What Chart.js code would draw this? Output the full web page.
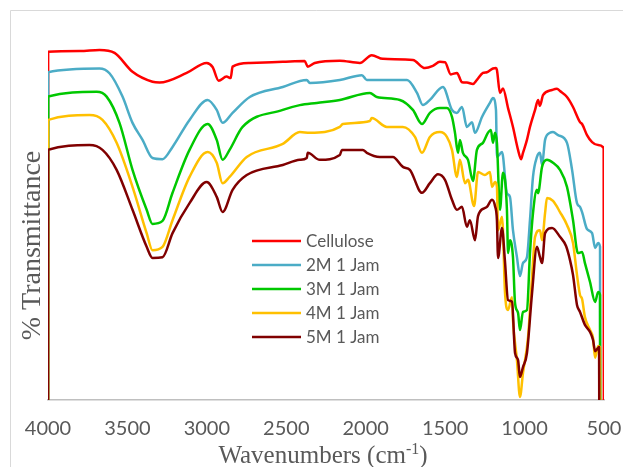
<!DOCTYPE html>
<html><head><meta charset="utf-8">
<script src="https://cdn.jsdelivr.net/npm/chart.js@4"></script>
<style>html,body{margin:0;padding:0;background:#fff}canvas{display:block}</style>
</head><body>
<canvas id="c" width="623" height="467"></canvas>
<script>
const seriesNames = ['Cellulose', '2M 1 Jam', '3M 1 Jam', '4M 1 Jam', '5M 1 Jam'];
const seriesColors = ['#ff0000', '#4bacc6', '#00c800', '#ffc000', '#800000'];
const xTicks = [500, 1000, 1500, 2000, 2500, 3000, 3500, 4000];

// [wavenumber (cm-1), transmittance (arbitrary, offset)]
const cellulose = [[4000,0],[3999,94.1],[3800,94.3],[3676,94.6],[3581,93.8],[3468,88.7],[3342,86.0],[3298,85.8],[3127,88.4],[3001,91.1],[2964,90.0],[2926,86.3],[2876,87.4],[2850,87.0],[2838,90.1],[2730,91.1],[2522,91.4],[2384,91.6],[2365,90.1],[2321,91.1],[2163,91.7],[2037,91.1],[1962,93.2],[1892,92.2],[1703,91.9],[1627,89.7],[1577,90.3],[1533,91.4],[1501,91.3],[1464,88.0],[1426,88.4],[1394,85.9],[1363,85.8],[1325,85.4],[1300,86.5],[1262,88.4],[1237,88.6],[1199,89.6],[1180,89.7],[1174,89.2],[1155,83.0],[1136,84.2],[1104,78.9],[1073,73.8],[1041,67.6],[1022,65.1],[1010,66.8],[985,70.3],[966,73.8],[934,78.4],[915,81.1],[903,79.5],[884,82.4],[827,83.8],[796,84.1],[777,83.5],[733,81.9],[695,79.2],[651,75.1],[638,74.6],[607,71.6],[575,69.7],[537,68.9],[502,68.1],[501,0]];

const m2Jam = [[4000,0],[3999,88.6],[3676,89.6],[3613,88.3],[3531,82.0],[3468,74.9],[3405,70.3],[3342,65.4],[3279,65.1],[3216,68.4],[3109,75.7],[2995,81.1],[2938,78.4],[2901,74.9],[2838,77.6],[2730,81.9],[2522,84.6],[2371,86.5],[2352,85.7],[2163,86.5],[2024,87.8],[1993,86.5],[1740,86.5],[1677,83.0],[1640,79.7],[1596,81.1],[1514,84.6],[1457,78.4],[1426,77.6],[1394,79.2],[1363,73.8],[1331,75.1],[1312,72.2],[1268,76.5],[1218,80.3],[1199,81.6],[1180,78.4],[1174,65.7],[1142,67.0],[1111,55.9],[1092,54.9],[1073,45.9],[1048,38.6],[1029,33.5],[1010,37.0],[985,38.6],[966,48.6],[947,60.3],[922,65.7],[903,66.8],[890,63.5],[871,70.3],[840,72.2],[821,72.4],[789,71.6],[733,69.5],[701,62.2],[670,53.2],[651,52.2],[638,50.8],[607,46.2],[575,45.1],[556,41.1],[537,42.4],[525,41.4],[524,0]];

const m3Jam = [[4000,0],[3999,82.0],[3694,83.3],[3631,82.0],[3550,74.9],[3468,62.2],[3379,51.4],[3342,47.6],[3279,48.4],[3216,56.0],[3109,67.6],[2995,74.6],[2938,70.3],[2901,64.9],[2857,67.6],[2775,73.8],[2522,78.4],[2415,79.7],[2308,80.3],[2163,81.1],[1974,83.0],[1930,81.9],[1785,81.1],[1703,78.4],[1646,74.6],[1596,77.6],[1533,78.9],[1489,78.9],[1457,76.5],[1438,72.2],[1419,66.8],[1407,70.3],[1388,66.8],[1356,64.9],[1325,59.2],[1300,67.6],[1262,69.5],[1231,72.2],[1212,73.0],[1199,69.5],[1186,72.2],[1174,69.5],[1155,51.4],[1136,61.4],[1111,51.4],[1104,39.7],[1092,43.2],[1073,38.6],[1060,26.2],[1041,23.5],[1029,18.9],[1010,23.8],[985,24.3],[966,39.7],[947,50.5],[922,56.8],[915,55.9],[890,63.0],[859,64.9],[821,64.1],[777,62.2],[733,57.6],[695,48.6],[664,39.7],[638,40.0],[620,37.0],[588,31.9],[556,26.5],[537,29.2],[525,28.4],[524,0]];

const m4Jam = [[4000,0],[3999,75.7],[3739,77.0],[3657,75.7],[3568,69.5],[3468,57.6],[3379,45.1],[3342,40.5],[3279,41.4],[3216,48.6],[3109,60.3],[2995,67.0],[2938,64.1],[2901,58.6],[2857,60.3],[2749,65.7],[2522,69.2],[2415,72.4],[2352,72.2],[2163,73.8],[2144,74.6],[1974,75.4],[1962,76.2],[1867,73.8],[1766,73.8],[1690,71.1],[1646,66.8],[1596,71.1],[1533,72.4],[1489,71.1],[1457,67.6],[1426,60.3],[1407,64.9],[1375,58.6],[1356,59.5],[1318,52.4],[1293,61.6],[1250,60.8],[1218,61.6],[1205,57.6],[1186,58.9],[1174,57.6],[1167,45.9],[1142,49.5],[1136,45.9],[1124,29.7],[1104,24.3],[1079,27.8],[1073,21.6],[1048,10.8],[1029,0.8],[1010,7.3],[978,17.0],[953,33.2],[934,44.1],[903,45.9],[890,43.2],[871,50.5],[859,54.6],[821,53.8],[777,50.8],[733,47.3],[695,42.4],[670,33.8],[651,28.4],[638,27.3],[620,22.4],[588,18.9],[569,16.8],[556,11.4],[537,14.6],[525,14.3],[524,0]];

const m5Jam = [[4000,0],[3999,67.6],[3739,68.9],[3657,67.6],[3568,62.2],[3468,51.4],[3379,41.4],[3342,38.4],[3279,38.6],[3216,45.1],[3109,53.2],[3001,58.9],[2938,54.9],[2901,50.8],[2838,56.8],[2749,60.8],[2522,63.5],[2415,64.9],[2371,65.4],[2365,66.8],[2289,64.9],[2163,66.2],[2150,67.6],[2018,67.6],[1993,66.8],[1911,65.7],[1829,65.7],[1766,63.0],[1722,62.2],[1646,56.0],[1596,58.6],[1545,61.0],[1501,59.5],[1457,54.1],[1426,51.4],[1394,52.2],[1363,46.8],[1344,48.6],[1312,43.2],[1293,49.7],[1250,51.9],[1237,52.2],[1205,54.1],[1186,52.4],[1174,48.6],[1167,38.4],[1142,46.5],[1124,37.8],[1104,27.0],[1079,26.5],[1060,12.7],[1041,10.8],[1029,6.2],[1010,8.9],[985,12.7],[953,28.9],[922,41.4],[903,38.6],[890,37.0],[871,45.1],[827,46.5],[777,44.1],[739,41.6],[714,37.8],[695,33.8],[670,25.7],[651,23.8],[620,20.3],[588,18.4],[569,16.2],[556,13.2],[537,14.1],[531,14.3],[530,0]];

const allSeries = [cellulose, m2Jam, m3Jam, m4Jam, m5Jam];
const xTitleMain = 'Wavenumbers (cm';
const xTitleSup = '-1';
const xTitleEnd = ')';
const yTitle = '% Transmittance';

const framePlugin = {
  id: 'frame',
  beforeDraw(chart) {
    const ctx = chart.ctx;
    ctx.save();
    ctx.fillStyle = '#ffffff';
    ctx.fillRect(0, 0, chart.width, chart.height);
    ctx.strokeStyle = '#d9d9d9';
    ctx.lineWidth = 1;
    ctx.beginPath();
    ctx.moveTo(10.5, chart.height);
    ctx.lineTo(10.5, 10.5);
    ctx.lineTo(chart.width, 10.5);
    ctx.stroke();
    ctx.restore();
  }
};

const textPlugin = {
  id: 'texts',
  afterDraw(chart) {
    const ctx = chart.ctx;
    ctx.save();
    ctx.fillStyle = '#595959';
    const mainFont = '25px "Liberation Serif"';
    const supFont = '16px "Liberation Serif"';
    ctx.font = mainFont;
    const w1 = ctx.measureText(xTitleMain).width;
    const w3 = ctx.measureText(xTitleEnd).width;
    ctx.font = supFont;
    const w2 = ctx.measureText(xTitleSup).width;
    const total = w1 + w2 + w3;
    const x0 = 323 - total / 2;
    const base = 463;
    ctx.textBaseline = 'alphabetic';
    ctx.textAlign = 'left';
    ctx.font = mainFont;
    ctx.fillText(xTitleMain, x0, base);
    ctx.font = supFont;
    ctx.fillText(xTitleSup, x0 + w1, base - 9);
    ctx.font = mainFont;
    ctx.fillText(xTitleEnd, x0 + w1 + w2, base);
    ctx.save();
    ctx.translate(40, 245.5);
    ctx.rotate(-Math.PI / 2);
    ctx.textAlign = 'center';
    ctx.font = '28px "Liberation Serif"';
    ctx.fillText(yTitle, 0, 0);
    ctx.restore();
    ctx.font = '17px Lato';
    ctx.textBaseline = 'middle';
    ctx.textAlign = 'left';
    chart.data.datasets.forEach((ds, i) => {
      const y = 241 + i * 24;
      ctx.strokeStyle = ds.borderColor;
      ctx.lineWidth = 2.5;
      ctx.beginPath();
      ctx.moveTo(252, y);
      ctx.lineTo(301, y);
      ctx.stroke();
      ctx.fillStyle = '#595959';
      ctx.fillText(ds.label, 306, y + 1);
    });
    ctx.restore();
  }
};

new Chart(document.getElementById('c'), {
  type: 'line',
  data: {
    datasets: allSeries.map((s, i) => ({
      label: seriesNames[i],
      data: s.map(p => ({ x: p[0], y: p[1] })),
      borderColor: seriesColors[i],
      borderWidth: 2.5,
      borderJoinStyle: 'round',
      pointRadius: 0,
      cubicInterpolationMode: 'monotone',
      fill: false,
      order: allSeries.length - i
    }))
  },
  options: {
    responsive: false,
    animation: false,
    devicePixelRatio: 1,
    layout: { padding: { left: 48, right: 19, top: 30, bottom: 0 } },
    plugins: { legend: { display: false }, tooltip: { enabled: false } },
    scales: {
      x: {
        type: 'linear', reverse: true, min: 500, max: 4000,
        afterBuildTicks(scale) { scale.ticks = xTicks.map(v => ({ value: v })); },
        afterFit(scale) { scale.height = 67; scale.paddingLeft = 0; scale.paddingRight = 0; },
        grid: { display: false, drawTicks: false },
        border: { display: true, color: '#bfbfbf', width: 1.5 },
        ticks: { padding: 17, color: '#595959', font: { family: 'Lato', size: 20 }, maxRotation: 0, autoSkip: false,
                 callback: v => String(v) }
      },
      y: { display: false, min: 0, max: 100 }
    }
  },
  plugins: [framePlugin, textPlugin]
});
</script>
</body></html>
